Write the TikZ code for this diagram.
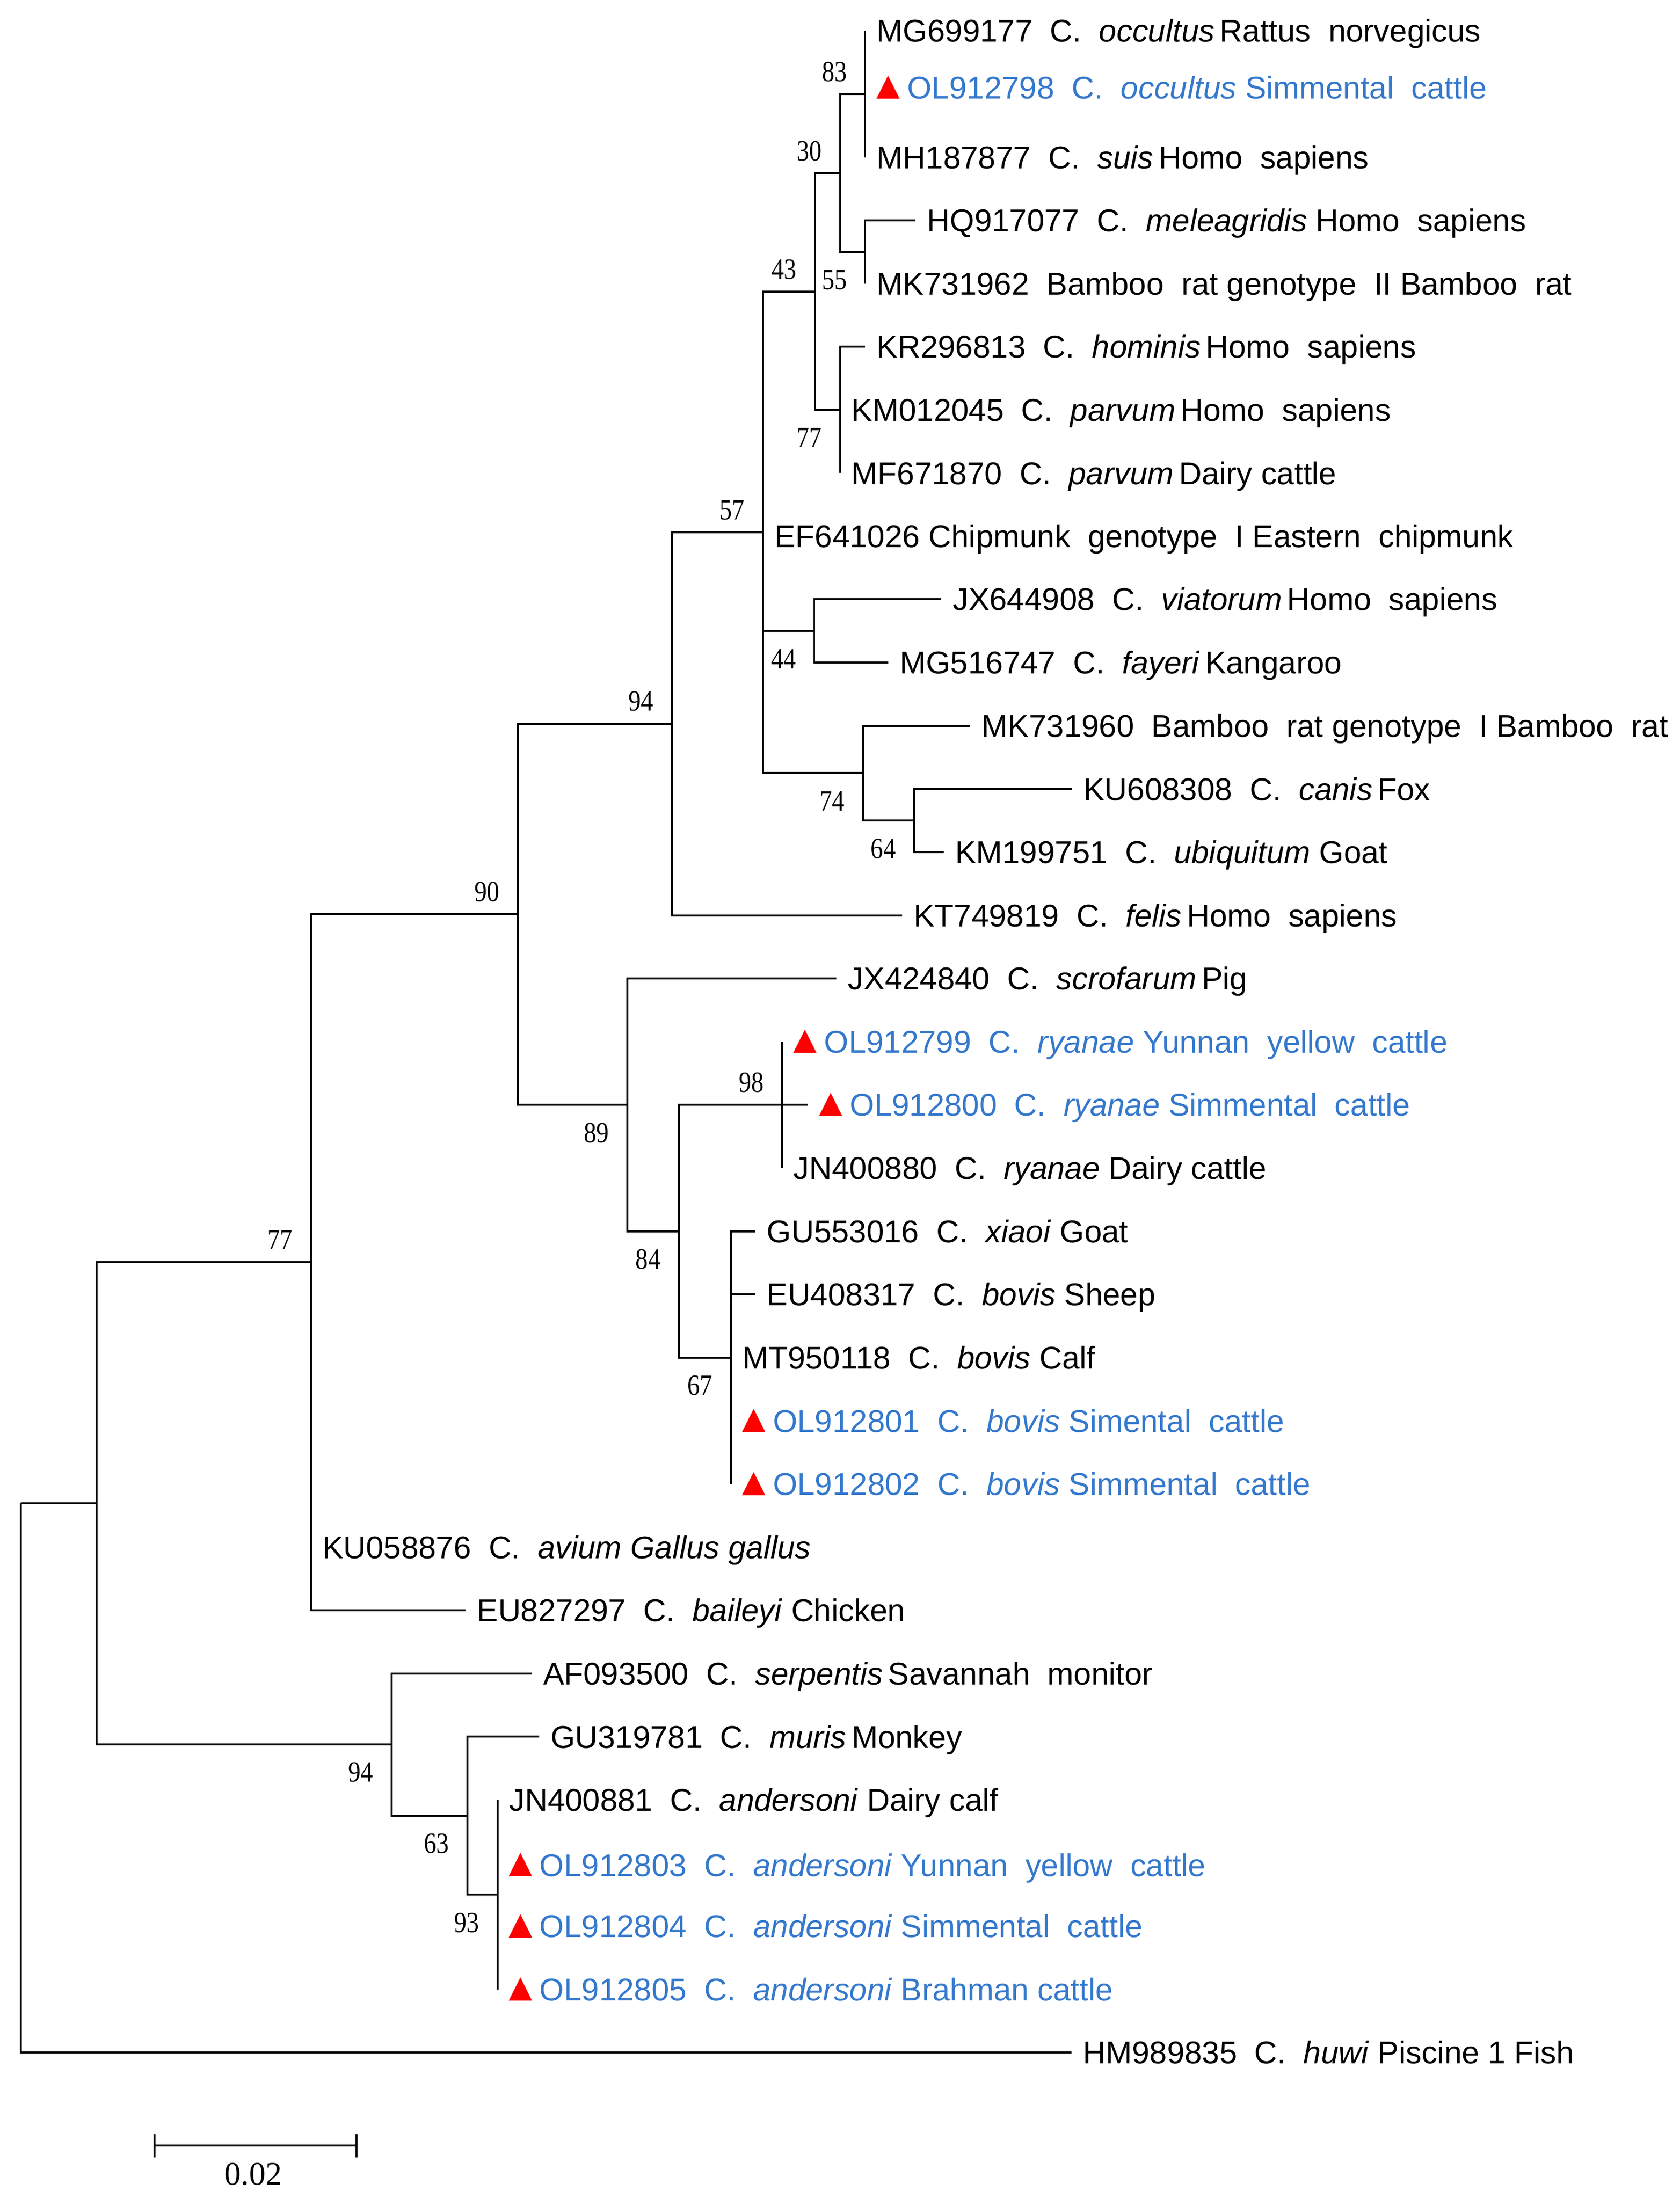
\documentclass[tikz,border=0pt]{standalone}
\usepackage{fontspec}
\setmainfont{Liberation Sans}
\newfontfamily\bsfont[FakeStretch=0.85]{Liberation Serif}
\newfontfamily\barfont{Liberation Serif}
\usetikzlibrary{calc, positioning}
\definecolor{mkred}{RGB}{255, 0, 0}
\definecolor{seqblue}{RGB}{52, 120, 205}

\tikzset{
  branch/.style={line width=1pt, black},
  leaf/.style={anchor=base west, inner sep=0pt, xshift=0.2cm, yshift=-5.73pt, font=\fontsize{16}{19}\selectfont},
  ownseq/.style={leaf, text=seqblue},
  bsnum/.style={inner sep=0pt, font=\bsfont\fontsize{14.9}{16}\selectfont},
  bsup/.style={bsnum, xshift=-0.55cm, yshift=0.4cm},
  bsdown/.style={bsnum, xshift=-0.55cm, yshift=-0.5cm},
}
% red marker in front of the sequences of this study
\newcommand{\tri}[1]{\fill[mkred] (#1.base west) -- ++(0.415cm,0cm) -- ++(-0.2075cm,0.415cm) -- cycle;}
\newcommand{\trisp}{\hspace{0.545cm}}

\begin{document}
\begin{tikzpicture}[x=0.025cm, y=-0.025cm]
  \useasboundingbox (0,0) rectangle (1200,1570.65);

  % === inner nodes ===
  \coordinate (root) at (15, 1073.8);
  \coordinate (nR) at (69, 1073.8);
  \coordinate (nS) at (222, 901.6);
  \coordinate (nT) at (370, 653);
  \coordinate (nH) at (480, 517);
  \coordinate (nF) at (545, 380.3);
  \coordinate (nD) at (582, 208.3);
  \coordinate (nB) at (600, 123.8);
  \coordinate (nA) at (618, 67.2);
  \coordinate (nC) at (618, 180);
  \coordinate (nE) at (600, 292.8);
  \coordinate (nG) at (581.6, 450.6);
  \coordinate (nI) at (616.3, 552.2);
  \coordinate (nJ) at (653, 586.1);
  \coordinate (nK) at (448, 789.1);
  \coordinate (nL) at (485, 879.4);
  \coordinate (nM) at (558.6, 789.1);
  \coordinate (nN) at (522, 969.6);
  \coordinate (nO) at (279.7, 1246);
  \coordinate (nP) at (333.8, 1296.8);
  \coordinate (nQ) at (355.4, 1353.2);

  % === tips ===
  \coordinate (t01) at (618, 22);
  \coordinate (t02) at (618, 62.5);
  \coordinate (t03) at (618, 112.3);
  \coordinate (t04) at (654, 157.4);
  \coordinate (t05) at (618, 202.5);
  \coordinate (t06) at (618, 247.6);
  \coordinate (t07) at (600, 292.8);
  \coordinate (t08) at (600, 337.9);
  \coordinate (t09) at (545, 383);
  \coordinate (t10) at (672.3, 428);
  \coordinate (t11) at (634.5, 473.2);
  \coordinate (t12) at (693, 518.4);
  \coordinate (t13) at (765.7, 563.5);
  \coordinate (t14) at (674, 608.6);
  \coordinate (t15) at (644.4, 653.8);
  \coordinate (t16) at (597.5, 698.9);
  \coordinate (t17) at (558.6, 744);
  \coordinate (t18) at (577, 789.1);
  \coordinate (t19) at (558.6, 834.3);
  \coordinate (t20) at (539.4, 879.4);
  \coordinate (t21) at (539.4, 924.5);
  \coordinate (t22) at (522, 969.6);
  \coordinate (t23) at (522, 1014.8);
  \coordinate (t24) at (522, 1059.9);
  \coordinate (t25) at (222, 1105);
  \coordinate (t26) at (332.5, 1150.1);
  \coordinate (t27) at (379.8, 1195.3);
  \coordinate (t28) at (385, 1240.4);
  \coordinate (t29) at (355.4, 1285.5);
  \coordinate (t30) at (355.4, 1332);
  \coordinate (t31) at (355.4, 1375.8);
  \coordinate (t32) at (355.4, 1420.9);
  \coordinate (t33) at (765.3, 1466);

  % === branches ===
  \draw[branch] (root) |- (nR) (root) |- (t33);
  \draw[branch] (nR) |- (nS) (nR) |- (nO);
  \draw[branch] (nS) |- (nT) (nS) |- (t25) (nS) |- (t26);
  \draw[branch] (nT) |- (nH) (nT) |- (nK);
  \draw[branch] (nH) |- (nF) (nH) |- (t15);
  \draw[branch] (nF) |- (nD) (nF) |- (t09) (nF) |- (nG) (nF) |- (nI);
  \draw[branch] (nD) |- (nB) (nD) |- (nE);
  \draw[branch] (nB) |- (nA) (nB) |- (nC);
  \draw[branch] (nA) |- (t01) (nA) |- (t02) (nA) |- (t03);
  \draw[branch] (nC) |- (t04) (nC) |- (t05);
  \draw[branch] (nE) |- (t06) (nE) |- (t07) (nE) |- (t08);
  \draw[branch] (nG) |- (t10) (nG) |- (t11);
  \draw[branch] (nI) |- (t12) (nI) |- (nJ);
  \draw[branch] (nJ) |- (t13) (nJ) |- (t14);
  \draw[branch] (nK) |- (t16) (nK) |- (nL);
  \draw[branch] (nL) |- (nM) (nL) |- (nN);
  \draw[branch] (nM) |- (t17) (nM) |- (t18) (nM) |- (t19);
  \draw[branch] (nN) |- (t20) (nN) |- (t21) (nN) |- (t22) (nN) |- (t23) (nN) |- (t24);
  \draw[branch] (nO) |- (t27) (nO) |- (nP);
  \draw[branch] (nP) |- (t28) (nP) |- (nQ);
  \draw[branch] (nQ) |- (t29) (nQ) |- (t30) (nQ) |- (t31) (nQ) |- (t32);

  % === taxa ===
  \node[leaf] (l01) at (t01) {MG699177~~C.~~\textit{occultus}\,Rattus~~norvegicus};
  \node[ownseq] (l02) at (t02) {\trisp OL912798~~C.~~\textit{occultus}~Simmental~~cattle};
  \node[leaf] (l03) at (t03) {MH187877~~C.~~\textit{suis}\,Homo~~sapiens};
  \node[leaf] (l04) at (t04) {HQ917077~~C.~~\textit{meleagridis}~Homo~~sapiens};
  \node[leaf] (l05) at (t05) {MK731962~~Bamboo~~rat~genotype~~II~Bamboo~~rat};
  \node[leaf] (l06) at (t06) {KR296813~~C.~~\textit{hominis}\,Homo~~sapiens};
  \node[leaf] (l07) at (t07) {KM012045~~C.~~\textit{parvum}\,Homo~~sapiens};
  \node[leaf] (l08) at (t08) {MF671870~~C.~~\textit{parvum}\,Dairy cattle};
  \node[leaf] (l09) at (t09) {EF641026~Chipmunk~~genotype~~I~Eastern~~chipmunk};
  \node[leaf] (l10) at (t10) {JX644908~~C.~~\textit{viatorum}\,Homo~~sapiens};
  \node[leaf] (l11) at (t11) {MG516747~~C.~~\textit{fayeri}\,Kangaroo};
  \node[leaf] (l12) at (t12) {MK731960~~Bamboo~~rat~genotype~~I~Bamboo~~rat};
  \node[leaf] (l13) at (t13) {KU608308~~C.~~\textit{canis}\,Fox};
  \node[leaf] (l14) at (t14) {KM199751~~C.~~\textit{ubiquitum}~Goat};
  \node[leaf] (l15) at (t15) {KT749819~~C.~~\textit{felis}\,Homo~~sapiens};
  \node[leaf] (l16) at (t16) {JX424840~~C.~~\textit{scrofarum}\,Pig};
  \node[ownseq] (l17) at (t17) {\trisp OL912799~~C.~~\textit{ryanae}~Yunnan~~yellow~~cattle};
  \node[ownseq] (l18) at (t18) {\trisp OL912800~~C.~~\textit{ryanae}~Simmental~~cattle};
  \node[leaf] (l19) at (t19) {JN400880~~C.~~\textit{ryanae}~Dairy cattle};
  \node[leaf] (l20) at (t20) {GU553016~~C.~~\textit{xiaoi}~Goat};
  \node[leaf] (l21) at (t21) {EU408317~~C.~~\textit{bovis}~Sheep};
  \node[leaf] (l22) at (t22) {MT950118~~C.~~\textit{bovis}~Calf};
  \node[ownseq] (l23) at (t23) {\trisp OL912801~~C.~~\textit{bovis}~Simental~~cattle};
  \node[ownseq] (l24) at (t24) {\trisp OL912802~~C.~~\textit{bovis}~Simmental~~cattle};
  \node[leaf] (l25) at (t25) {KU058876~~C.~~\textit{avium Gallus gallus}};
  \node[leaf] (l26) at (t26) {EU827297~~C.~~\textit{baileyi}~Chicken};
  \node[leaf] (l27) at (t27) {AF093500~~C.~~\textit{serpentis}\,Savannah~~monitor};
  \node[leaf] (l28) at (t28) {GU319781~~C.~~\textit{muris}\,Monkey};
  \node[leaf] (l29) at (t29) {JN400881~~C.~~\textit{andersoni}~Dairy calf};
  \node[ownseq] (l30) at (t30) {\trisp OL912803~~C.~~\textit{andersoni}~Yunnan~~yellow~~cattle};
  \node[ownseq] (l31) at (t31) {\trisp OL912804~~C.~~\textit{andersoni}~Simmental~~cattle};
  \node[ownseq] (l32) at (t32) {\trisp OL912805~~C.~~\textit{andersoni}~Brahman~cattle};
  \node[leaf] (l33) at (t33) {HM989835~~C.~~\textit{huwi}~Piscine 1 Fish};

  % markers
  \tri{l02} \tri{l17} \tri{l18} \tri{l23} \tri{l24} \tri{l30} \tri{l31} \tri{l32}

  % === bootstrap values ===
  \node[bsup] (b83) at (nA) {83};
  \node[bsup] (b30) at (nB) {30};
  \node[bsdown] (b55) at (nC) {55};
  \node[bsup] (b43) at (nD) {43};
  \node[bsdown] (b77a) at (nE) {77};
  \node[bsup] (b57) at (nF) {57};
  \node[bsdown] (b44) at (nG) {44};
  \node[bsup] (b94a) at (nH) {94};
  \node[bsdown] (b74) at (nI) {74};
  \node[bsdown] (b64) at (nJ) {64};
  \node[bsup] (b90) at (nT) {90};
  \node[bsup] (b98) at (nM) {98};
  \node[bsdown] (b89) at (nK) {89};
  \node[bsdown] (b84) at (nL) {84};
  \node[bsdown] (b67) at (nN) {67};
  \node[bsup] (b77b) at (nS) {77};
  \node[bsdown] (b94b) at (nO) {94};
  \node[bsdown] (b63) at (nP) {63};
  \node[bsdown] (b93) at (nQ) {93};

  % === scale bar ===
  \coordinate (s0) at (110.2, 1532.5);
  \coordinate (s1) at (254.6, 1532.5);
  \draw[branch] (s0) -- (s1);
  \draw[branch] ($(s0)+(0,-8.2)$) -- ($(s0)+(0,8.3)$);
  \draw[branch] ($(s1)+(0,-8.2)$) -- ($(s1)+(0,8.3)$);
  \node[inner sep=0pt, font=\barfont\fontsize{16.7}{18}\selectfont] (sbar) at (181, 1552.9) {0.02};
\end{tikzpicture}
\end{document}
